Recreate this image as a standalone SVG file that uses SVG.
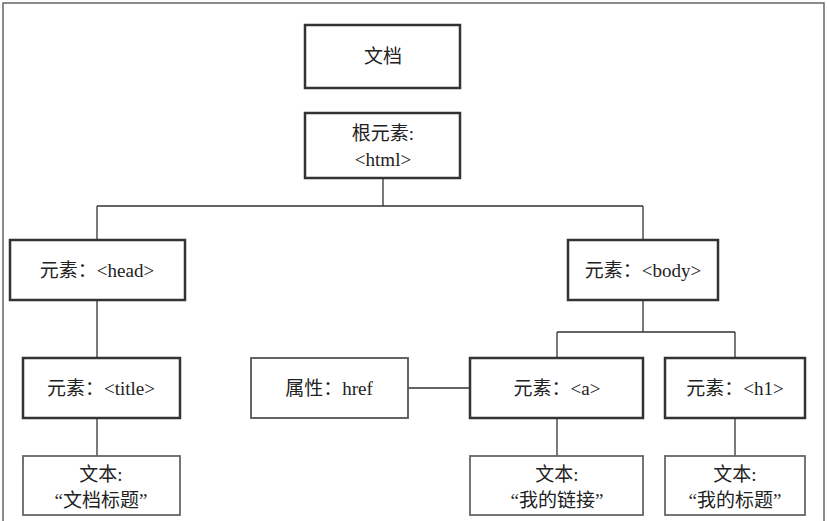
<svg xmlns="http://www.w3.org/2000/svg" width="828" height="521" viewBox="0 0 828 521">
<style>
.n{fill:#fff;stroke:#333;stroke-width:2.5}
.t{fill:#fff;stroke:#666;stroke-width:1.8}
.a{fill:#fff;stroke:#555;stroke-width:1.8}
text{font-family:"Liberation Serif","Noto Sans CJK SC",serif;font-size:19px;fill:#222;text-anchor:middle}
.c{stroke:#333;stroke-width:1.3;fill:none}
</style>
<rect x="0" y="0" width="828" height="521" fill="#fff"/>
<rect x="3" y="3" width="821" height="520" fill="none" stroke="#666" stroke-width="1.5"/>
<g id="connectors">
<path class="c" d="M383 178V206M97 206H643M97 206V240M643 206V240M97 300V358M97 418V456M643 300V332M557 332H735M557 332V358M735 332V358M408 388H470M557 418V456M735 418V456"/>
</g>
<g id="doc"><rect class="n" x="305" y="25" width="155" height="63"/><text x="383" y="63">文档</text></g>
<g id="html"><rect class="n" x="305" y="113" width="155" height="65"/><text x="383" y="140">根元素:</text><text x="383" y="166">&lt;html&gt;</text></g>
<g id="head"><rect class="n" x="10" y="240" width="175" height="60"/><text x="97" y="277">元素：&lt;head&gt;</text></g>
<g id="body"><rect class="n" x="568" y="240" width="150" height="60"/><text x="643" y="277">元素：&lt;body&gt;</text></g>
<g id="title"><rect class="n" x="23" y="358" width="157" height="60"/><text x="101" y="395">元素：&lt;title&gt;</text></g>
<g id="href"><rect class="a" x="251" y="358" width="157" height="60"/><text x="329" y="395">属性：href</text></g>
<g id="a"><rect class="n" x="470" y="358" width="173" height="60"/><text x="557" y="395">元素：&lt;a&gt;</text></g>
<g id="h1"><rect class="n" x="665" y="358" width="140" height="60"/><text x="735" y="395">元素：&lt;h1&gt;</text></g>
<g id="t1"><rect class="t" x="23" y="456" width="157" height="59"/><text x="101" y="481">文本:</text><text x="101" y="507">“文档标题”</text></g>
<g id="t2"><rect class="t" x="470" y="456" width="173" height="59"/><text x="557" y="481">文本:</text><text x="557" y="507">“我的链接”</text></g>
<g id="t3"><rect class="t" x="665" y="456" width="140" height="59"/><text x="735" y="481">文本:</text><text x="735" y="507">“我的标题”</text></g>
</svg>
